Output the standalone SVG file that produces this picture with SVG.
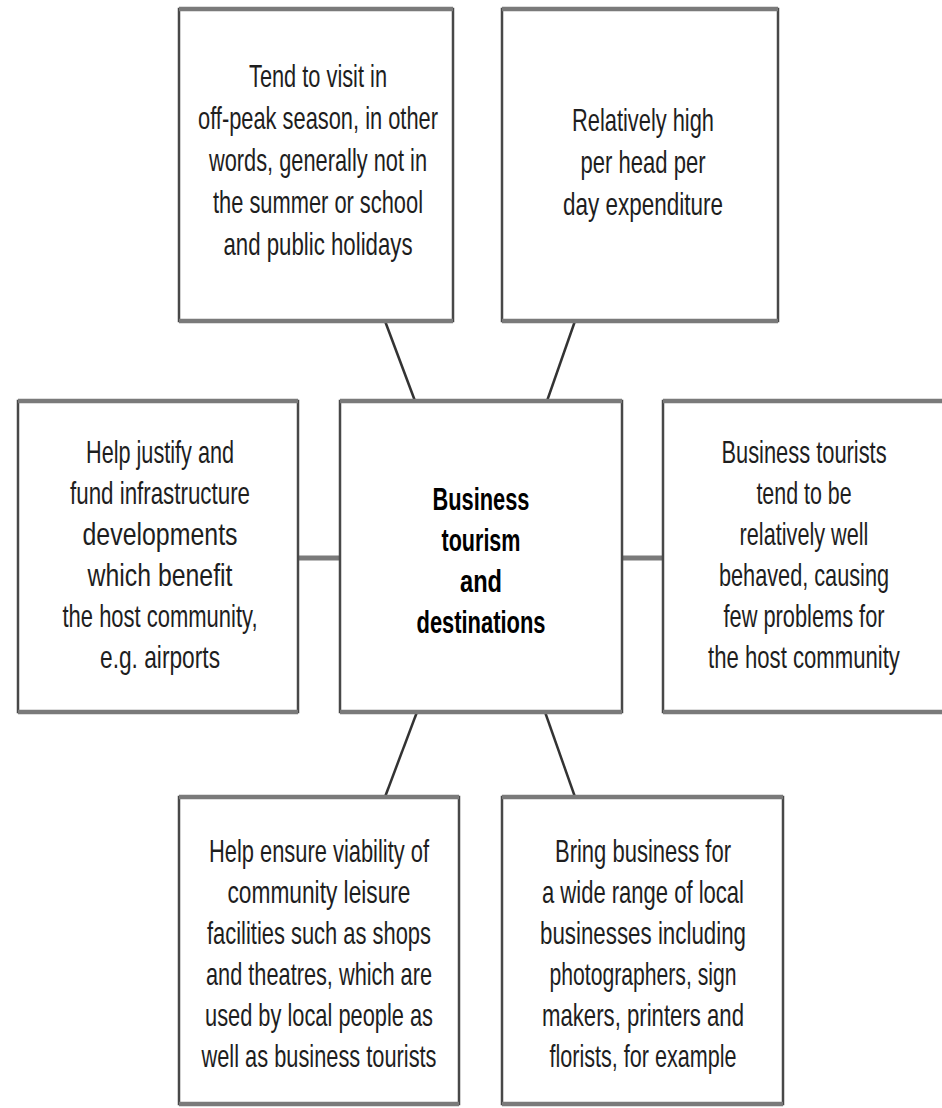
<svg xmlns="http://www.w3.org/2000/svg" width="942" height="1108" viewBox="0 0 942 1108">
<style>
.box{fill:#fff;stroke:#484848;stroke-width:2.5}
.edge{stroke:#7a7a7a;stroke-width:4.5;fill:none}
.t{font-family:"Liberation Sans",Arial,sans-serif;font-size:32px;fill:#1e1e1e;text-anchor:middle}
.b{font-weight:bold;fill:#000}
.c{stroke:#333;stroke-width:2.5;fill:none}
.h{stroke:#7a7a7a;stroke-width:5;fill:none}
</style>
<rect width="942" height="1108" fill="#fff"/>
<g id="connectors">
<line class="c" x1="385" y1="321" x2="415" y2="401"/>
<line class="c" x1="575" y1="321" x2="547" y2="401"/>
<line class="h" x1="298" y1="558" x2="340" y2="558"/>
<line class="h" x1="622" y1="558" x2="663" y2="558"/>
<line class="c" x1="417" y1="712" x2="385" y2="797"/>
<line class="c" x1="545" y1="712" x2="575" y2="797"/>
</g>
<g id="off-peak">
<rect class="box" x="179" y="9" width="274" height="312"/>
<path class="edge" d="M179 9H453M179 321H453"/>
<text class="t"><tspan x="318" y="87" textLength="138" lengthAdjust="spacingAndGlyphs">Tend to visit in</tspan><tspan x="318" y="129" textLength="240" lengthAdjust="spacingAndGlyphs">off-peak season, in other</tspan><tspan x="318" y="171" textLength="218" lengthAdjust="spacingAndGlyphs">words, generally not in</tspan><tspan x="318" y="213" textLength="210" lengthAdjust="spacingAndGlyphs">the summer or school</tspan><tspan x="318" y="255" textLength="189" lengthAdjust="spacingAndGlyphs">and public holidays</tspan></text>
</g>
<g id="expenditure">
<rect class="box" x="502" y="9" width="276" height="312"/>
<path class="edge" d="M502 9H778M502 321H778"/>
<text class="t"><tspan x="643" y="131" textLength="142" lengthAdjust="spacingAndGlyphs">Relatively high</tspan><tspan x="643" y="173" textLength="125" lengthAdjust="spacingAndGlyphs">per head per</tspan><tspan x="643" y="215" textLength="160" lengthAdjust="spacingAndGlyphs">day expenditure</tspan></text>
</g>
<g id="infrastructure">
<rect class="box" x="18" y="401" width="280" height="311"/>
<path class="edge" d="M18 401H298M18 712H298"/>
<text class="t"><tspan x="160" y="463" textLength="148" lengthAdjust="spacingAndGlyphs">Help justify and</tspan><tspan x="160" y="504" textLength="180" lengthAdjust="spacingAndGlyphs">fund infrastructure</tspan><tspan x="160" y="545" textLength="155" lengthAdjust="spacingAndGlyphs">developments</tspan><tspan x="160" y="586" textLength="145" lengthAdjust="spacingAndGlyphs">which benefit</tspan><tspan x="160" y="627" textLength="195" lengthAdjust="spacingAndGlyphs">the host community,</tspan><tspan x="160" y="668" textLength="120" lengthAdjust="spacingAndGlyphs">e.g. airports</tspan></text>
</g>
<g id="center">
<rect class="box" x="340" y="401" width="282" height="311"/>
<path class="edge" d="M340 401H622M340 712H622"/>
<text class="t b"><tspan x="481" y="510" textLength="97" lengthAdjust="spacingAndGlyphs">Business</tspan><tspan x="481" y="551" textLength="79" lengthAdjust="spacingAndGlyphs">tourism</tspan><tspan x="481" y="592" textLength="42" lengthAdjust="spacingAndGlyphs">and</tspan><tspan x="481" y="633" textLength="129" lengthAdjust="spacingAndGlyphs">destinations</tspan></text>
</g>
<g id="behaved">
<rect class="box" x="663" y="401" width="300" height="311"/>
<path class="edge" d="M663 401H942M663 712H942"/>
<text class="t" transform="translate(804 463) scale(0.7 1)" x="0" y="0" textLength="236" lengthAdjust="spacingAndGlyphs">Business tourists</text>
<text class="t" transform="translate(804 504) scale(0.7 1)" x="0" y="0" textLength="136" lengthAdjust="spacingAndGlyphs">tend to be</text>
<text class="t" transform="translate(804 545) scale(0.7 1)" x="0" y="0" textLength="184" lengthAdjust="spacingAndGlyphs">relatively well</text>
<text class="t" transform="translate(804 586) scale(0.7 1)" x="0" y="0" textLength="243" lengthAdjust="spacingAndGlyphs">behaved, causing</text>
<text class="t" transform="translate(804 627) scale(0.7 1)" x="0" y="0" textLength="230" lengthAdjust="spacingAndGlyphs">few problems for</text>
<text class="t" transform="translate(804 668) scale(0.7 1)" x="0" y="0" textLength="274" lengthAdjust="spacingAndGlyphs">the host community</text>
</g>
<g id="leisure">
<rect class="box" x="179" y="797" width="280" height="307"/>
<path class="edge" d="M179 797H459M179 1104H459"/>
<text class="t"><tspan x="319" y="862" textLength="220" lengthAdjust="spacingAndGlyphs">Help ensure viability of</tspan><tspan x="319" y="903" textLength="183" lengthAdjust="spacingAndGlyphs">community leisure</tspan><tspan x="319" y="944" textLength="224" lengthAdjust="spacingAndGlyphs">facilities such as shops</tspan><tspan x="319" y="985" textLength="226" lengthAdjust="spacingAndGlyphs">and theatres, which are</tspan><tspan x="319" y="1026" textLength="228" lengthAdjust="spacingAndGlyphs">used by local people as</tspan><tspan x="319" y="1067" textLength="235" lengthAdjust="spacingAndGlyphs">well as business tourists</tspan></text>
</g>
<g id="local-business">
<rect class="box" x="502" y="797" width="281" height="307"/>
<path class="edge" d="M502 797H783M502 1104H783"/>
<text class="t"><tspan x="643" y="862" textLength="176" lengthAdjust="spacingAndGlyphs">Bring business for</tspan><tspan x="643" y="903" textLength="202" lengthAdjust="spacingAndGlyphs">a wide range of local</tspan><tspan x="643" y="944" textLength="206" lengthAdjust="spacingAndGlyphs">businesses including</tspan><tspan x="643" y="985" textLength="187" lengthAdjust="spacingAndGlyphs">photographers, sign</tspan><tspan x="643" y="1026" textLength="202" lengthAdjust="spacingAndGlyphs">makers, printers and</tspan><tspan x="643" y="1067" textLength="187" lengthAdjust="spacingAndGlyphs">florists, for example</tspan></text>
</g>
</svg>
